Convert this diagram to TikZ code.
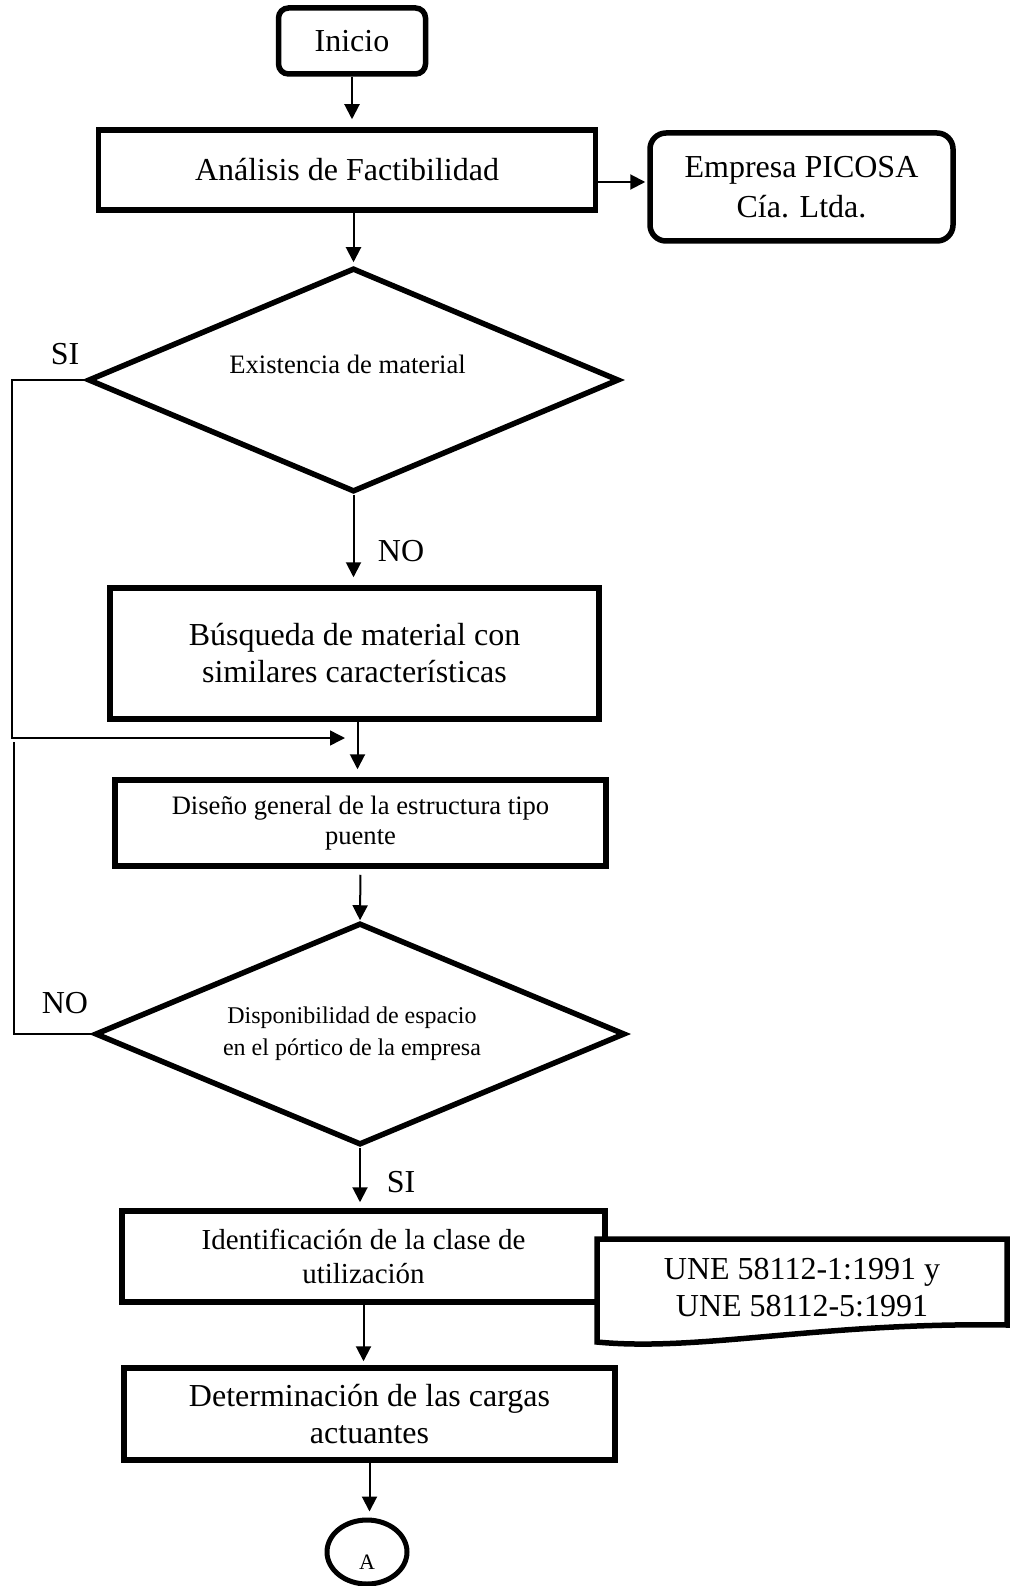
\documentclass[tikz,border=0pt]{standalone}
\usepackage{fontspec}
\setmainfont{Liberation Serif}
\usetikzlibrary{shapes.geometric,arrows.meta,calc}
\begin{document}
\begin{tikzpicture}[x=1pt,y=-1pt,
  every node/.style={inner sep=0pt, align=center},
  big/.style={font=\fontsize{32}{37}\selectfont},
  procbox/.style={draw, line width=5.5pt, rectangle, fill=white},
  termbox/.style={procbox, rounded corners=10pt},
  decision/.style={draw, line width=5.5pt, diamond, aspect=2.37},
  tip/.style={-{Triangle[length=15pt,width=15pt]}},
  arr/.style={line width=2pt, tip},
  back/.style={line width=1.5pt}]
\useasboundingbox (0,0) rectangle (1014,1586);

% main column
\node[termbox, big, minimum width=147pt, minimum height=66pt] (inicio) at (352,41) {Inicio};
\node[procbox, big, minimum width=497pt, minimum height=80pt] (anal) at (347,170) {Análisis de Factibilidad};
\node[termbox, rounded corners=16pt, font=\fontsize{32}{40}\selectfont, minimum width=303pt, minimum height=108pt] (emp) at (801.5,187) {Empresa PICOSA\\Cía. Ltda.};
\node[decision, minimum width=531pt, minimum height=224pt, font=\fontsize{26.6}{31}\selectfont] (d1) at (353.5,380) {\raisebox{32pt}{Existencia de material\hspace*{12pt}}};
\node[procbox, big, minimum width=489pt, minimum height=131pt] (busq) at (354.5,653.5) {Búsqueda de material con\\similares características};
\node[procbox, font=\fontsize{26.6}{29.5}\selectfont, minimum width=491pt, minimum height=86pt] (dis) at (360.5,823) {Diseño general de la estructura tipo\\puente};
\node[decision, minimum width=530pt, minimum height=222pt, font=\fontsize{24}{32.4}\selectfont] (d2) at (360,1034) {Disponibilidad de espacio\hspace*{16pt}\\en el pórtico de la empresa\hspace*{16pt}};
\node[procbox, font=\fontsize{29}{33.5}\selectfont, minimum width=483pt, minimum height=91pt] (ident) at (363.5,1256.5) {Identificación de la clase de\\utilización};

% reference document
\draw[line width=5.5pt, fill=white] (597,1239) -- (1007,1239) -- (1007,1325)
  .. controls (820,1322) and (700,1352) .. (597,1342) -- cycle;
\node[big] (une) at (802,1288) {UNE 58112-1:1991 y\\UNE 58112-5:1991};

\node[procbox, big, minimum width=491pt, minimum height=92pt] (det) at (369.5,1414) {Determinación de las cargas\\actuantes};
\node[draw, ellipse, line width=5pt, minimum width=80pt, minimum height=64pt, text height=34pt, text depth=0pt, font=\fontsize{22}{24}\selectfont] (conA) at (367,1552) {A};

% branch labels
\node[big] (si1) at (65,354) {SI};
\node[big] (no1) at (401,551) {NO};
\node[big] (no2) at (65,1003) {NO};
\node[big] (si2) at (401,1182) {SI};

% connectors
\draw[arr, shorten >=8pt] (inicio.south) -- (inicio.south |- anal.north);
\draw[arr, shorten >=2pt] ([yshift=-12pt]anal.east) -- ([yshift=-12pt]anal.east -| emp.west);
\draw[arr, shorten >=3pt] (d1.north |- anal.south) -- (d1.north);
\draw[arr, shorten >=8pt] (d1.south) -- (d1.south |- busq.north);
\draw[arr, shorten >=8pt] ([xshift=3pt]busq.south) -- ([xshift=3pt]busq.south |- dis.north);
\draw[arr, shorten <=6pt] (dis.south) -- (d2.north);
\draw[arr, shorten >=6pt] (d2.south) -- (d2.south |- ident.north);
\draw[arr, shorten >=4pt] (ident.south) -- (ident.south |- det.north);
\draw[arr, shorten >=6pt] (det.south) -- (det.south |- conA.north);

% return lines on the left
\coordinate (leftrail) at (12,738);
\coordinate (merge) at (345,738);
\coordinate (norail) at (14,742);
\draw[back, tip] (d1.west) -| (leftrail) -- (merge);
\draw[back] (d2.west) -| (norail);
\end{tikzpicture}
\end{document}
